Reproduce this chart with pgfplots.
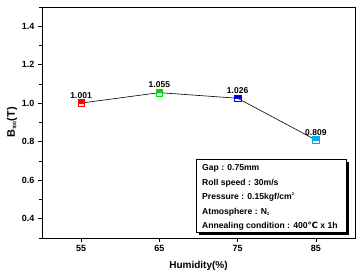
\documentclass[border=0pt]{standalone}
\usepackage{fontspec}
\setmainfont{Liberation Sans}
\newfontfamily\symfont{DejaVu Sans}
\usepackage{pgfplots}
\pgfplotsset{compat=1.18}
\usetikzlibrary{shadows}

% square mark: outlined, upper half filled
\pgfdeclareplotmark{tophalfsq}{%
  \pgfpathrectangle{\pgfpoint{-\pgfplotmarksize}{0pt}}{\pgfpoint{2\pgfplotmarksize}{\pgfplotmarksize}}%
  \pgfusepathqfillstroke
  \pgfpathrectangle{\pgfpoint{-\pgfplotmarksize}{-\pgfplotmarksize}}{\pgfpoint{2\pgfplotmarksize}{2\pgfplotmarksize}}%
  \pgfusepathqstroke
}

\begin{document}
\begin{tikzpicture}
\begin{axis}[
  at={(0,0)}, anchor=south west,
  scale only axis, width=313pt, height=231pt,
  xmin=50, xmax=90, ymin=0.3, ymax=1.5,
  xtick={55,65,75,85},
  ytick={0.4,0.6,...,1.41},
  minor ytick={0.3,0.5,...,1.45},
  xtick pos=bottom, ytick pos=left,
  tick align=outside,
  major tick length=4pt, minor tick length=2.5pt,
  every tick/.style={black, semithick},
  axis line style={semithick},
  /pgf/number format/assume math mode=true,
  /pgf/number format/fixed, /pgf/number format/precision=1,
  /pgf/number format/fixed zerofill,
  xticklabel style={font=\bfseries\fontsize{9}{10}\selectfont, /pgf/number format/precision=0},
  yticklabel style={font=\bfseries\fontsize{9}{10}\selectfont},
  ylabel={\bfseries B\textsubscript{\fontsize{5}{6}\selectfont 700}(T)},
  ylabel style={font=\fontsize{11}{12}\selectfont, yshift=-2pt},
  xlabel={\bfseries Humidity(\%)},
  xlabel style={font=\fontsize{10}{12}\selectfont, yshift=-2pt},
  nodes near coords style={font=\bfseries\fontsize{8.5}{9}\selectfont, black, anchor=south, yshift=1pt,
    /pgf/number format/fixed, /pgf/number format/precision=3, /pgf/number format/fixed zerofill},
  clip=false,
]
% overall trend line
\addplot[black, semithick, no marks] coordinates {(55,1.001) (65,1.055) (75,1.026) (85,0.809)};
% individual samples
\addplot[only marks, mark=tophalfsq, mark size=3.3pt, mark options={draw=red, fill=red, semithick}, nodes near coords]
  coordinates {(55,1.001)};
\addplot[only marks, mark=tophalfsq, mark size=3.3pt, mark options={draw=green!85!black, fill=green!85!black, semithick}, nodes near coords]
  coordinates {(65,1.055)};
\addplot[only marks, mark=tophalfsq, mark size=3.3pt, mark options={draw=blue, fill=blue!75!black, semithick}, nodes near coords]
  coordinates {(75,1.026)};
\addplot[only marks, mark=tophalfsq, mark size=3.3pt, mark options={draw=cyan, fill=cyan, semithick}, nodes near coords]
  coordinates {(85,0.809)};

% process conditions
\node[draw=black, thin, fill=white, anchor=south west, inner sep=0pt,
      minimum width=150pt, minimum height=73pt,
      drop shadow={shadow xshift=3pt, shadow yshift=-3pt, fill=black, opacity=1}]
  (box) at (rel axis cs:0.492,0.026) {};
\node[anchor=north west, align=left, font=\bfseries\fontsize{8.6}{14.5}\selectfont, inner sep=0pt]
  at ([xshift=6pt, yshift=-6pt]box.north west)
  {Gap : 0.75mm\\
   Roll speed : 30m/s\\
   Pressure : 0.15kgf/cm\textsuperscript{\fontsize{4}{5}\selectfont 2}\\
   Atmosphere : N\textsubscript{\fontsize{4}{5}\selectfont 2}\\
   Annealing condition : 400{\symfont\bfseries ℃} x 1h};
\end{axis}
\pgfresetboundingbox
\path[use as bounding box] (-42pt,-33pt) rectangle (314pt,238pt);
\end{tikzpicture}
\end{document}
